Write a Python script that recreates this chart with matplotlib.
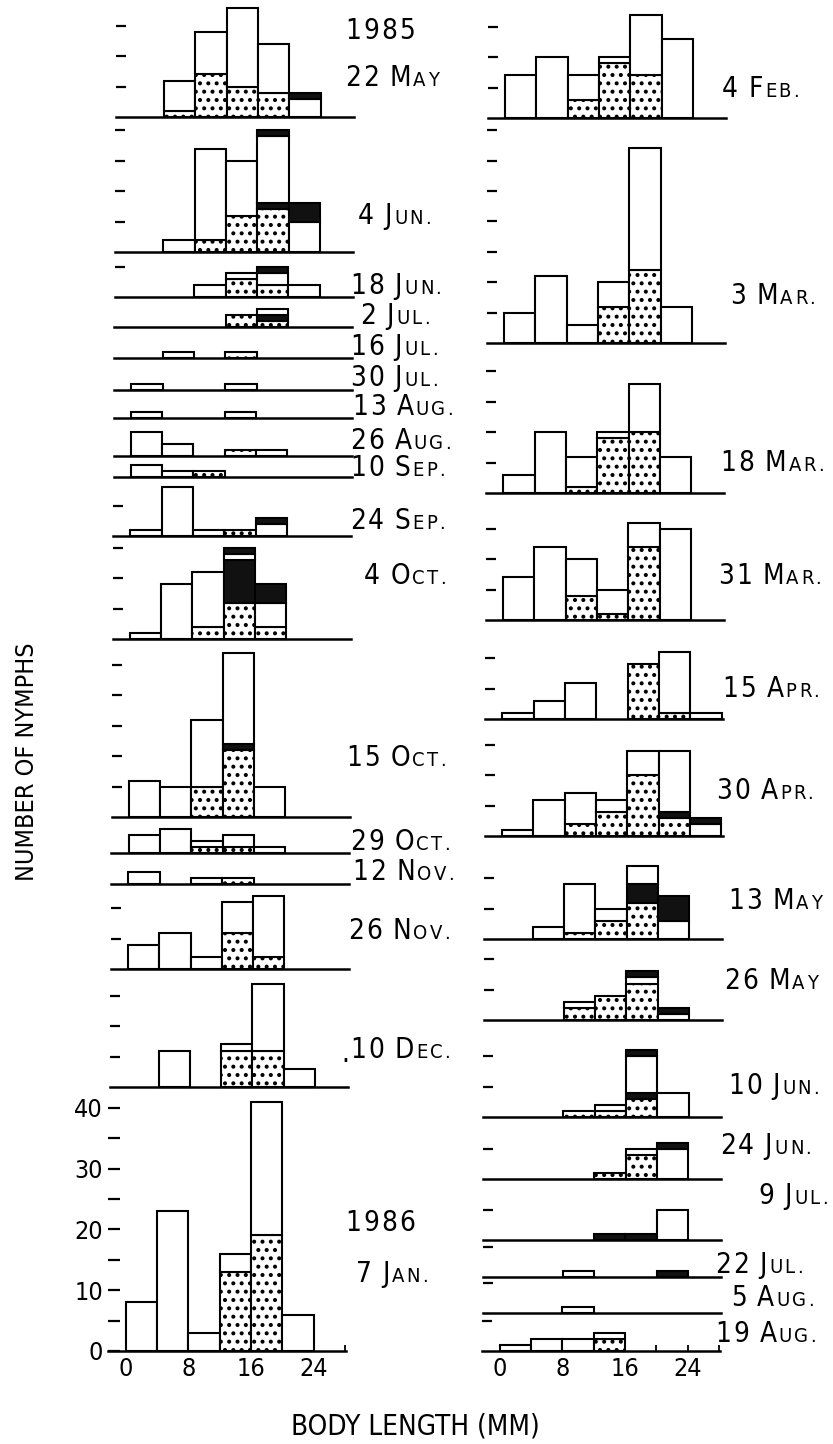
import matplotlib
matplotlib.use('Agg')
import matplotlib.pyplot as plt
from matplotlib.transforms import IdentityTransform
from matplotlib import font_manager

# ---------------- data ----------------
bin_left = [0, 4, 8, 12, 16, 20, 24]          # body length classes (mm), width 4

left_dates = ["22 May", "4 Jun.", "18 Jun.", "2 Jul.", "16 Jul.", "30 Jul.", "13 Aug.",
              "26 Aug.", "10 Sep.", "24 Sep.", "4 Oct.", "15 Oct.", "29 Oct.", "12 Nov.",
              "26 Nov.", "10 Dec.", "7 Jan."]
left_total = [[0, 6, 14, 18, 12, 4, 0], [0, 2, 17, 15, 20, 8, 0], [0, 0, 2, 4, 5, 2, 0],
              [0, 0, 0, 2, 3, 0, 0], [0, 1, 0, 1, 0, 0, 0], [1, 0, 0, 1, 0, 0, 0],
              [1, 0, 0, 1, 0, 0, 0], [4, 2, 0, 1, 1, 0, 0], [2, 1, 1, 0, 0, 0, 0],
              [1, 8, 1, 1, 3, 0, 0], [1, 9, 11, 15, 9, 0, 0], [6, 5, 16, 27, 5, 0, 0],
              [3, 4, 2, 3, 1, 0, 0], [2, 0, 1, 1, 0, 0, 0], [4, 6, 2, 11, 12, 0, 0],
              [0, 6, 0, 7, 17, 3, 0], [8, 23, 3, 16, 41, 6, 0]]
left_dotted = [[0, 1, 7, 5, 4, 0, 0], [0, 0, 2, 6, 7, 0, 0], [0, 0, 0, 3, 2, 0, 0],
               [0, 0, 0, 2, 1, 0, 0], [0, 0, 0, 1, 0, 0, 0], [0, 0, 0, 0, 0, 0, 0],
               [0, 0, 0, 0, 0, 0, 0], [0, 0, 0, 1, 0, 0, 0], [0, 0, 1, 0, 0, 0, 0],
               [0, 0, 0, 1, 0, 0, 0], [0, 0, 2, 6, 2, 0, 0], [0, 0, 5, 11, 0, 0, 0],
               [0, 0, 1, 1, 0, 0, 0], [0, 0, 0, 1, 0, 0, 0], [0, 0, 0, 6, 2, 0, 0],
               [0, 0, 0, 6, 6, 0, 0], [0, 0, 0, 13, 19, 0, 0]]
left_black_low = [[0] * 7, [0, 0, 0, 0, 1, 0, 0], [0] * 7, [0, 0, 0, 0, 1, 0, 0],
                  [0] * 7, [0] * 7, [0] * 7, [0] * 7, [0] * 7, [0] * 7,
                  [0, 0, 0, 7, 0, 0, 0], [0, 0, 0, 1, 0, 0, 0], [0] * 7, [0] * 7,
                  [0] * 7, [0] * 7, [0] * 7]
left_black_top = [[0, 0, 0, 0, 0, 1, 0], [0, 0, 0, 0, 1, 3, 0], [0, 0, 0, 0, 1, 0, 0],
                  [0] * 7, [0] * 7, [0] * 7, [0] * 7, [0] * 7, [0] * 7,
                  [0, 0, 0, 0, 1, 0, 0], [0, 0, 0, 1, 3, 0, 0], [0] * 7, [0] * 7,
                  [0] * 7, [0] * 7, [0] * 7, [0] * 7]

right_dates = ["4 Feb.", "3 Mar.", "18 Mar.", "31 Mar.", "15 Apr.", "30 Apr.", "13 May",
               "26 May", "10 Jun.", "24 Jun.", "9 Jul.", "22 Jul.", "5 Aug.", "19 Aug."]
right_total = [[7, 10, 7, 10, 17, 13, 0], [5, 11, 3, 10, 32, 6, 0], [3, 10, 6, 10, 18, 6, 0],
               [7, 12, 10, 5, 16, 15, 0], [1, 3, 6, 0, 9, 11, 1], [1, 6, 7, 6, 14, 14, 3],
               [0, 2, 9, 5, 12, 7, 0], [0, 0, 3, 4, 8, 2, 0], [0, 0, 1, 2, 11, 4, 0],
               [0, 0, 0, 1, 5, 6, 0], [0, 0, 0, 1, 1, 5, 0], [0, 0, 1, 0, 0, 1, 0],
               [0, 0, 1, 0, 0, 0, 0], [1, 2, 2, 3, 0, 0, 0]]
right_dotted = [[0, 0, 3, 9, 7, 0, 0], [0, 0, 0, 6, 12, 0, 0], [0, 0, 1, 9, 10, 0, 0],
                [0, 0, 4, 1, 12, 0, 0], [0, 0, 0, 0, 9, 1, 0], [0, 0, 2, 4, 10, 3, 0],
                [0, 0, 1, 3, 6, 0, 0], [0, 0, 2, 4, 6, 0, 0], [0, 0, 1, 1, 3, 0, 0],
                [0, 0, 0, 1, 4, 0, 0], [0] * 7, [0] * 7, [0] * 7, [0, 0, 0, 2, 0, 0, 0]]
right_black_low = [[0] * 7, [0] * 7, [0] * 7, [0] * 7, [0] * 7, [0, 0, 0, 0, 0, 1, 0],
                   [0, 0, 0, 0, 3, 0, 0], [0] * 7, [0, 0, 0, 0, 1, 0, 0], [0] * 7,
                   [0, 0, 0, 1, 1, 0, 0], [0, 0, 0, 0, 0, 1, 0], [0] * 7, [0] * 7]
right_black_top = [[0] * 7, [0] * 7, [0] * 7, [0] * 7, [0] * 7, [0, 0, 0, 0, 0, 0, 1],
                   [0, 0, 0, 0, 0, 4, 0], [0, 0, 0, 0, 1, 1, 0], [0, 0, 0, 0, 1, 0, 0],
                   [0, 0, 0, 0, 0, 1, 0], [0] * 7, [0] * 7, [0] * 7, [0] * 7]

x_tick_values = [0, 4, 8, 12, 16, 20, 24, 28]
x_tick_labels = ["0", "", "8", "", "16", "", "24", ""]
y_tick_values = [0, 5, 10, 15, 20, 25, 30, 35, 40]
y_tick_labels = ["0", "", "10", "", "20", "", "30", "", "40"]

# ---------------- layout (pixels) ----------------
W, H, DPI = 833, 1444, 100
PPU = 6.08       # pixels per nymph
PXMM = 7.83      # pixels per mm
XMIN, XMAX = -2.2, 28.2

left_base = [117, 252, 297, 327, 358, 390, 418, 456, 477, 536, 639, 817, 853, 884, 969, 1087, 1351]
right_base = [118, 343, 493, 620, 719, 836, 939, 1020, 1117, 1179, 1240, 1277, 1313, 1351]
left_tickmax = [15, 20, 5, 0, 0, 0, 0, 0, 0, 5, 15, 25, 0, 0, 10, 15, 40]
right_tickmax = [15, 35, 20, 15, 10, 15, 10, 10, 10, 5, 5, 5, 5, 5]

left_lab = [(345, 86), (358, 224), (350, 294), (360, 324), (350, 355), (350, 386), (352, 415),
            (350, 449), (350, 476), (350, 529), (364, 584), (346, 766), (350, 850), (352, 880),
            (348, 939), (350, 1058), (356, 1282)]
right_lab = [(722, 97), (730, 304), (720, 471), (718, 584), (722, 697), (716, 799), (728, 909),
             (724, 989), (728, 1094), (720, 1154), (758, 1204), (715, 1273), (731, 1306), (715, 1342)]
year_lab = [("1985", 345, 39), ("1986", 345, 1231)]


def left_x0(y):
    return 133.5 - 0.0058 * y


def right_x0(y):
    return 505.7 - 0.0045 * y


# pick a narrow face if one is installed
narrow = None
for f in font_manager.fontManager.ttflist:
    n = f.fname.lower()
    if ('narrow' in n or 'condensed' in n) and 'bold' not in n and 'italic' not in n \
            and 'oblique' not in n and 'light' not in n:
        narrow = f.name
        break
FONT = narrow if narrow else 'Liberation Sans'
STRETCH = 'condensed' if narrow else 'normal'
plt.rcParams['font.family'] = [FONT, 'DejaVu Sans']
plt.rcParams['font.stretch'] = STRETCH
plt.rcParams['hatch.linewidth'] = 1.7

fig = plt.figure(figsize=(W / DPI, H / DPI), dpi=DPI)
fig.patch.set_facecolor('white')

STYLE = {
    'dot': dict(facecolor='white', edgecolor='black', hatch='..', linewidth=1.5),
    'black': dict(facecolor='#111111', edgecolor='black', linewidth=1.5),
    'white': dict(facecolor='white', edgecolor='black', linewidth=1.5),
}


def make_panel(x0, base, gap, tmax, tot, dot, blo, btop, bottom_axis=False, ylabels=False):
    left_px = x0 + XMIN * PXMM
    width_px = (XMAX - XMIN) * PXMM
    ax = fig.add_axes([left_px / W, (H - base) / H, width_px / W, gap / H])
    ax.set_xlim(XMIN, XMAX)
    ax.set_ylim(0, gap / PPU)
    ax.patch.set_alpha(0)
    for s in ['top', 'right', 'left']:
        ax.spines[s].set_visible(False)
    ax.spines['bottom'].set_linewidth(1.8)
    for i, x in enumerate(bin_left):
        segs = [(dot[i], 'dot'), (blo[i], 'black'),
                (tot[i] - dot[i] - blo[i] - btop[i], 'white'), (btop[i], 'black')]
        b = 0
        for h, kind in segs:
            if h <= 0:
                continue
            ax.bar(x, h, width=4, bottom=b, align='edge', clip_on=False, zorder=2, **STYLE[kind])
            b += h
    if ylabels:
        ax.set_yticks(y_tick_values)
        ax.set_yticklabels(y_tick_labels, fontsize=18)
        ax.tick_params(axis='y', direction='in', length=8.5, width=1.6, pad=4)
    else:
        ax.set_yticks(list(range(5, tmax + 1, 5)))
        ax.tick_params(axis='y', direction='in', length=7.5, width=1.6, labelleft=False)
    if bottom_axis:
        ax.set_xticks(x_tick_values)
        ax.set_xticklabels(x_tick_labels, fontsize=18)
        ax.tick_params(axis='x', direction='in', length=4.5, width=1.3, pad=4)
    else:
        ax.set_xticks([])
    return ax


prev = 0
for k in range(len(left_dates)):
    base = left_base[k]
    last = k == len(left_dates) - 1
    make_panel(left_x0(base), base, base - prev, left_tickmax[k], left_total[k], left_dotted[k],
               left_black_low[k], left_black_top[k], bottom_axis=last, ylabels=last)
    prev = base

prev = 0
for k in range(len(right_dates)):
    base = right_base[k]
    last = k == len(right_dates) - 1
    make_panel(right_x0(base), base, base - prev, right_tickmax[k], right_total[k], right_dotted[k],
               right_black_low[k], right_black_top[k], bottom_axis=last)
    prev = base

renderer = fig.canvas.get_renderer()
BIG, SMALL, TRACK = 20, 14.5, 2.2


def draw_label(x, y_base, text):
    xd = x
    yd = H - y_base
    for ch in text:
        if ch == ' ':
            xd += BIG * DPI / 72 * 0.30
            continue
        if ch.islower() or ch == '.':
            size, c = SMALL, ch.upper()
        else:
            size, c = BIG, ch
        t = fig.text(xd, yd, c, fontsize=size, transform=IdentityTransform(),
                     ha='left', va='baseline', color='black')
        xd += t.get_window_extent(renderer).width + TRACK


for (x, y), d in zip(left_lab, left_dates):
    draw_label(x, y, d)
for (x, y), d in zip(right_lab, right_dates):
    draw_label(x, y, d)
for txt, x, y in year_lab:
    draw_label(x, y, txt)
# stray dot before "10 Dec."
fig.text(341, H - 1062, '.', fontsize=20, transform=IdentityTransform(), ha='left', va='baseline')

fig.text(415 / W, 1 - 1427 / H, 'BODY LENGTH (MM)', fontsize=20, ha='center', va='center')
fig.text(27 / W, 1 - 762 / H, 'NUMBER OF NYMPHS', fontsize=18, rotation=90, ha='center', va='center')

fig.savefig('out.png', dpi=DPI, facecolor='white')
